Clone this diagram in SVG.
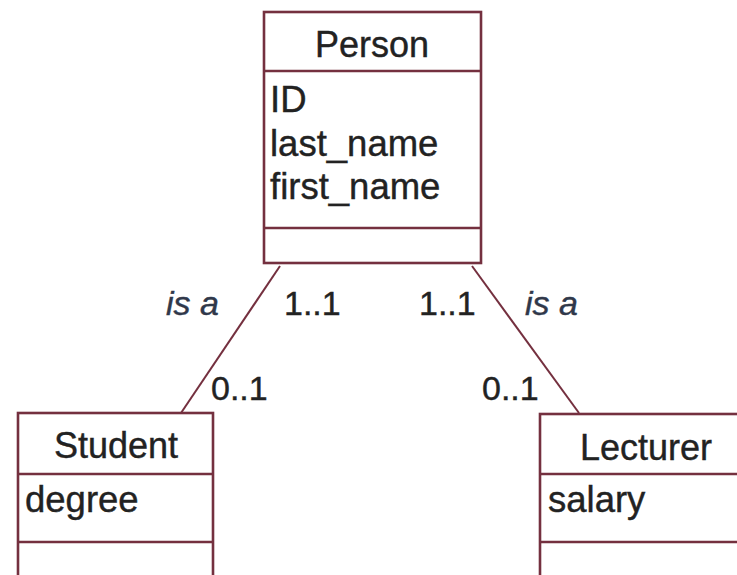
<svg xmlns="http://www.w3.org/2000/svg" width="737" height="575" viewBox="0 0 737 575">
  <style>
    .box { fill: #ffffff; stroke: #74303f; stroke-width: 2.6; }
    .sep { stroke: #74303f; stroke-width: 2.6; }
    .link { stroke: #74303f; stroke-width: 2; fill: none; }
    text { font-family: "Liberation Sans", Arial, sans-serif; fill: #222222; stroke: #222222; stroke-width: 0.4; }
    .title { font-size: 36px; text-anchor: middle; }
    .attr { font-size: 36.5px; }
    .lbl { font-size: 34px; }
    .role { font-size: 34px; font-style: italic; fill: #30384a; stroke: #30384a; }
  </style>
  <rect width="737" height="575" fill="#ffffff"/>

  <!-- generalisation links with role names and multiplicities -->
  <g id="connectors">
    <line class="link" x1="280" y1="266" x2="181" y2="413"/>
    <line class="link" x1="472" y1="266" x2="579" y2="413"/>
    <text class="role" x="166" y="315">is a</text>
    <text class="lbl" x="284" y="315">1..1</text>
    <text class="lbl" x="419" y="315">1..1</text>
    <text class="role" x="525" y="315">is a</text>
    <text class="lbl" x="211" y="400">0..1</text>
    <text class="lbl" x="482" y="400">0..1</text>
  </g>

  <g id="person">
    <rect class="box" x="264" y="12" width="217" height="251"/>
    <line class="sep" x1="264" y1="71" x2="481" y2="71"/>
    <line class="sep" x1="264" y1="228" x2="481" y2="228"/>
    <text class="title" x="372" y="57">Person</text>
    <text class="attr" x="270" y="112">ID</text>
    <text class="attr" x="270" y="156">last_name</text>
    <text class="attr" x="270" y="199">first_name</text>
  </g>

  <g id="student">
    <rect class="box" x="18" y="413" width="195" height="180"/>
    <line class="sep" x1="18" y1="474" x2="213" y2="474"/>
    <line class="sep" x1="18" y1="542" x2="213" y2="542"/>
    <text class="title" x="116" y="458">Student</text>
    <text class="attr" x="25" y="512">degree</text>
  </g>

  <g id="lecturer">
    <rect class="box" x="540" y="414" width="220" height="180"/>
    <line class="sep" x1="540" y1="474" x2="760" y2="474"/>
    <line class="sep" x1="540" y1="542" x2="760" y2="542"/>
    <text class="title" x="646" y="460">Lecturer</text>
    <text class="attr" x="548" y="512">salary</text>
  </g>
</svg>
